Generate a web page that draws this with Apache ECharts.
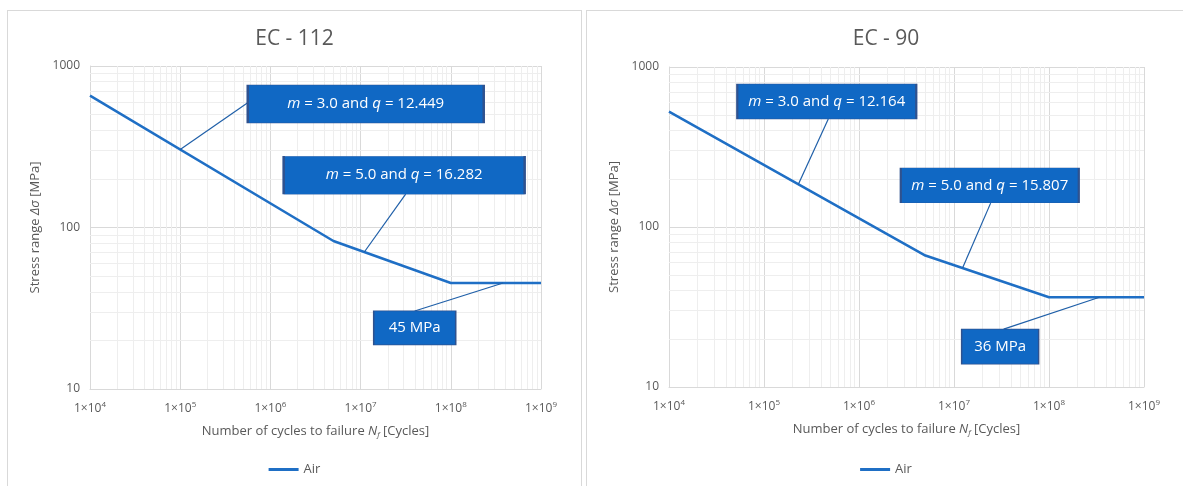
<!doctype html>
<html lang="en">
  <head>
    <meta charset="utf-8">
    <title>EC S-N curves</title>
    <script src="https://cdn.jsdelivr.net/npm/echarts@6.0.0/dist/echarts.min.js"></script>
    <style>
      body { margin: 0; background: #fff; width: 1183px; height: 486px; overflow: hidden; position: relative; }
      .panel { position: absolute; top: 10px; height: 490px; border: 1px solid #d9d9d9; box-sizing: border-box; }
      #chartLeft { left: 7px; width: 575px; }
      #chartRight { left: 586px; width: 600px; }
    </style>
  </head>
  <body>
    <div id="chartLeft" class="panel"></div>
    <div id="chartRight" class="panel"></div>

  <script>
    // S-N curve points (cycles, stress range MPa)
    var ec112Cycles = [1e4, 5e6, 1e8, 1e9];
    var ec112Stress = [655, 82.5, 45.3, 45.3];
    var ec90Cycles = [1e4, 5e6, 1e8, 1e9];
    var ec90Stress = [526, 66.3, 36.4, 36.4];

    // callouts: text, box centre, leader start (box edge), leader end (on curve)
    var ec112Notes = ['{i|m} = 3.0 and {i|q} = 12.449', '{i|m} = 5.0 and {i|q} = 16.282', '45 MPa'];
    var ec112NoteAt = [[1.14e7, 582], [3.04e7, 211], [3.98e7, 23.9]];
    var ec112NoteFrom = [[5.55e5, 590], [3.16e7, 161], [3.98e7, 30.4]];
    var ec112NoteTo = [[1e5, 304], [1.1e7, 70.5], [3.8e8, 45.3]];

    var ec90Notes = ['{i|m} = 3.0 and {i|q} = 12.164', '{i|m} = 5.0 and {i|q} = 15.807', '36 MPa'];
    var ec90NoteAt = [[4.58e5, 609], [2.38e7, 182], [3.06e7, 17.9]];
    var ec90NoteFrom = [[4.75e5, 473], [2.43e7, 141], [3.33e7, 23.0]];
    var ec90NoteTo = [[2.3e5, 185], [1.23e7, 55.4], [3.4e8, 36.4]];

    var font = 'Open Sans';
    var blue = '#1f6fc5';

    // minor gridlines at 2..9 of every decade
    function minors(lo, hi) {
      var out = [];
      for (var e = lo; e < hi; e++) {
        for (var k = 2; k <= 9; k++) out.push(k * Math.pow(10, e));
      }
      return out;
    }

    function buildOption(title, cycles, stress, notes, at, from, to, boxSizes, grid) {
      var pts = cycles.map(function (c, i) { return [c, stress[i]]; });
      var gridLines = minors(4, 9).map(function (v) { return { xAxis: v }; })
        .concat(minors(1, 3).map(function (v) { return { yAxis: v }; }));
      var leaders = from.map(function (f, i) { return [{ coord: f }, { coord: to[i] }]; });
      var boxes = notes.map(function (t, i) {
        return {
          coord: at[i],
          symbolSize: boxSizes[i],
          value: t,
          label: { formatter: t }
        };
      });

      return {
        animation: false,
        textStyle: { fontFamily: font },
        title: {
          text: title,
          left: 'center',
          top: 13,
          textStyle: { fontFamily: font, fontSize: 21, fontWeight: 'normal', color: '#595959' }
        },
        legend: {
          data: [{ name: 'Air', icon: 'rect' }],
          bottom: 18,
          left: 'center',
          itemWidth: 30,
          itemHeight: 3,
          itemGap: 4,
          textStyle: { fontFamily: font, fontSize: 13, color: '#595959' }
        },
        grid: grid,
        xAxis: {
          type: 'log',
          logBase: 10,
          min: 1e4,
          max: 1e9,
          name: 'Number of cycles to failure {i|N}{sub|f} [Cycles]',
          nameLocation: 'middle',
          nameGap: 34,
          nameTextStyle: {
            fontFamily: font, fontSize: 13, color: '#595959',
            rich: {
              i: { fontFamily: font, fontSize: 13, fontStyle: 'italic', color: '#595959' },
              sub: { fontFamily: font, fontSize: 8, fontStyle: 'italic', color: '#595959', padding: [8, 0, 0, 0] }
            }
          },
          axisLine: { lineStyle: { color: '#d9d9d9' } },
          axisTick: { show: false },
          axisLabel: {
            margin: 12,
            color: '#595959',
            fontSize: 12,
            formatter: function (v) {
              return '1×10{sup|' + Math.round(Math.log10(v)) + '}';
            },
            rich: { sup: { fontSize: 8, color: '#595959', padding: [0, 0, 7, 0] } }
          },
          splitLine: { show: true, lineStyle: { color: '#d9d9d9' } }
        },
        yAxis: {
          type: 'log',
          logBase: 10,
          min: 10,
          max: 1000,
          name: 'Stress range {i|Δσ} [MPa]',
          nameLocation: 'middle',
          nameGap: 44,
          nameTextStyle: {
            fontFamily: font, fontSize: 13, color: '#595959',
            rich: { i: { fontFamily: font, fontSize: 13, fontStyle: 'italic', color: '#595959' } }
          },
          axisLine: { show: true, lineStyle: { color: '#d9d9d9' } },
          axisTick: { show: false },
          axisLabel: {
            color: '#595959', fontSize: 12, margin: 10,
            formatter: function (v) { return String(Math.round(v)); }
          },
          splitLine: { show: true, lineStyle: { color: '#d9d9d9' } }
        },
        series: [
          {
            name: 'grid',
            type: 'line',
            data: [],
            silent: true,
            markLine: {
              silent: true,
              symbol: ['none', 'none'],
              label: { show: false },
              lineStyle: { color: '#eeeeee', width: 1, type: 'solid' },
              data: gridLines,
              z: 1
            }
          },
          {
            name: 'Air',
            type: 'line',
            data: pts,
            symbol: 'none',
            lineStyle: { color: blue, width: 2.5 },
            itemStyle: { color: blue },
            z: 3
          },
          {
            name: 'notes',
            type: 'line',
            data: [],
            z: 4,
            markLine: {
              silent: true,
              symbol: ['none', 'none'],
              label: { show: false },
              lineStyle: { color: '#1f5fa8', width: 1.2, type: 'solid' },
              data: leaders
            },
            markPoint: {
              silent: true,
              symbol: 'rect',
              itemStyle: { color: '#1068c4', borderColor: '#2f528f', borderWidth: 1 },
              label: {
                show: true,
                position: 'inside',
                color: '#fff',
                fontFamily: font,
                fontSize: 15,
                rich: { i: { color: '#fff', fontFamily: font, fontSize: 15, fontStyle: 'italic' } }
              },
              data: boxes
            }
          }
        ]
      };
    }

    var chartLeft = echarts.init(document.getElementById('chartLeft'), null, { renderer: 'canvas' });
    var chartRight = echarts.init(document.getElementById('chartRight'), null, { renderer: 'canvas' });

    chartLeft.setOption(buildOption('EC - 112', ec112Cycles, ec112Stress,
      ec112Notes, ec112NoteAt, ec112NoteFrom, ec112NoteTo,
      [[236, 38], [241, 38], [82, 34]],
      { left: 82, top: 55, width: 451, height: 323 }));

    chartRight.setOption(buildOption('EC - 90', ec90Cycles, ec90Stress,
      ec90Notes, ec90NoteAt, ec90NoteFrom, ec90NoteTo,
      [[179, 35], [178, 35], [77, 35]],
      { left: 82, top: 56, width: 475, height: 320 }));
  </script>
  </body>
</html>
